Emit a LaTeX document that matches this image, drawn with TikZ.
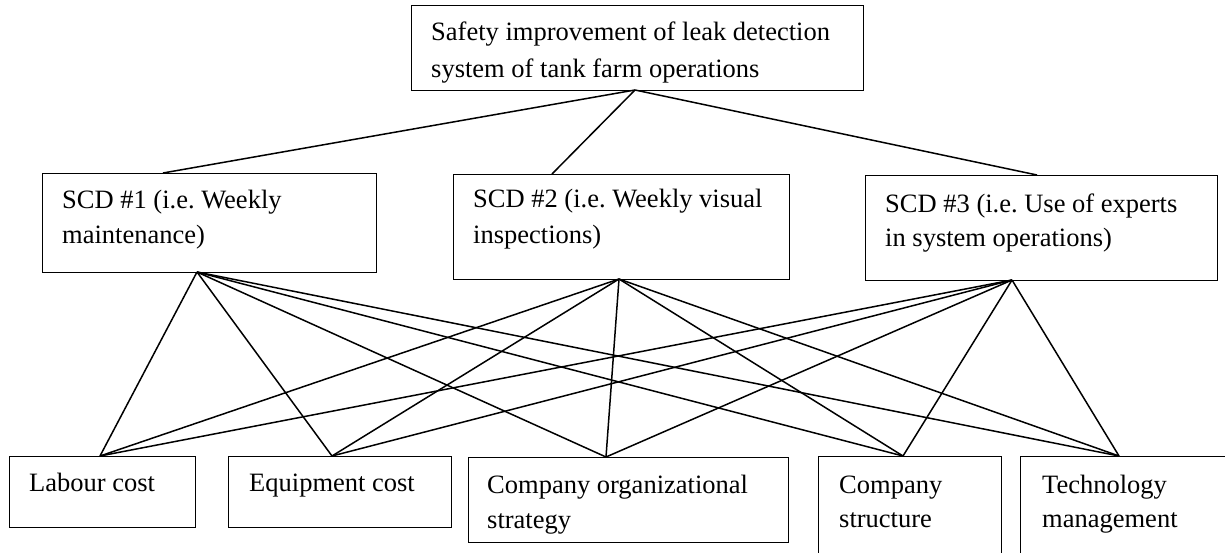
\documentclass[tikz,border=0pt]{standalone}
\usepackage{fontspec}
\setmainfont{Liberation Serif}
\frenchspacing
\begin{document}
\begin{tikzpicture}[x=1pt,y=-1pt,
  box/.style={draw, line width=1pt, inner sep=0pt, anchor=north west},
  conn/.style={line width=1.5pt},
  lbl/.style={anchor=base west, inner sep=0pt, font=\fontsize{26.5}{36}\selectfont}]
\clip (0,0) rectangle (1225,552);
% boxes
\node[box, minimum width=452pt, minimum height=85pt] (top) at (411,5) {};
\node[box, minimum width=334pt, minimum height=99pt] (s1) at (42,173) {};
\node[box, minimum width=336pt, minimum height=105pt] (s2) at (453,174) {};
\node[box, minimum width=352pt, minimum height=105pt] (s3) at (865,175) {};
\node[box, minimum width=186pt, minimum height=71pt] (c1) at (9,456) {};
\node[box, minimum width=223pt, minimum height=71pt] (c2) at (228,456) {};
\node[box, minimum width=320pt, minimum height=85pt] (c3) at (468,457) {};
\node[box, minimum width=183pt, minimum height=110pt] (c4) at (818,456) {};
\node[box, minimum width=220pt, minimum height=110pt] (c5) at (1020,456) {};
% texts
\node[lbl] (tt1) at (431,40) {Safety improvement of leak detection};
\node[lbl] (tt2) at (431,77) {system of tank farm operations};
\node[lbl] (ta1) at (62,208) {SCD \#1 (i.e. Weekly};
\node[lbl] (ta2) at (62,243) {maintenance)};
\node[lbl] (tb1) at (473,207) {SCD \#2 (i.e. Weekly visual};
\node[lbl] (tb2) at (473,243) {inspections)};
\node[lbl] (tc1) at (885,212) {SCD \#3 (i.e. Use of experts};
\node[lbl] (tc2) at (885,246) {in system operations)};
\node[lbl] (td1) at (29,491) {Labour cost};
\node[lbl] (te1) at (249,491) {Equipment cost};
\node[lbl] (tf1) at (487,493) {Company organizational};
\node[lbl] (tf2) at (487,528) {strategy};
\node[lbl] (tg1) at (839,493) {Company};
\node[lbl] (tg2) at (839,527) {structure};
\node[lbl] (th1) at (1042,493) {Technology};
\node[lbl] (th2) at (1042,527) {management};
% attachment points
\coordinate (pT) at (635,90);
\coordinate (p1in) at (163,173);
\coordinate (p2in) at (552,174);
\coordinate (p3in) at (1037,175);
\coordinate (p1) at (197,272);
\coordinate (p2) at (619,279);
\coordinate (p3) at (1012,280);
\coordinate (q1) at (100,456);
\coordinate (q2) at (332,456);
\coordinate (q3) at (606,457);
\coordinate (q4) at (903,456);
\coordinate (q5) at (1119,456);
% connectors
\draw[conn] (pT) -- (p1in);
\draw[conn] (pT) -- (p2in);
\draw[conn] (pT) -- (p3in);
\foreach \s in {p1,p2,p3}{
  \foreach \t in {q1,q2,q3,q4,q5}{
    \draw[conn] (\s) -- (\t);
  }
}
\end{tikzpicture}
\end{document}
